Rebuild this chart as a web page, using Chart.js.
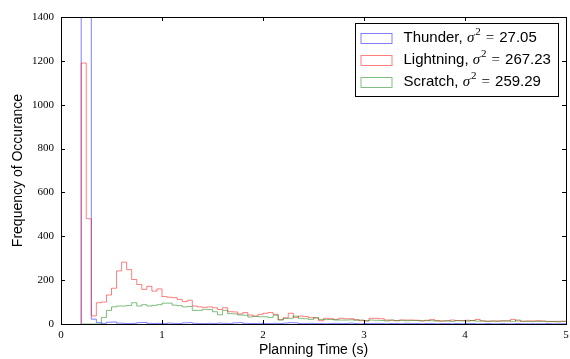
<!DOCTYPE html>
<html>
<head>
<meta charset="utf-8">
<script src="https://cdn.jsdelivr.net/npm/chart.js@4"></script>
<style>
  html, body { margin: 0; padding: 0; background: #fff; }
  #wrap { width: 570px; height: 359px; }
</style>
</head>
<body>
<div id="wrap"><canvas id="histChart" width="570" height="359"></canvas></div>
<script>
// histogram bins: 0.05 s wide, first edge at 0.2 s
const binStart = 0.2;
const binWidth = 0.05;

const seriesNames = ['Thunder', 'Lightning', 'Scratch'];
const variances = ['27.05', '267.23', '259.29'];

const thunder = [
  2600, 2400, 22, 6, 3, 8, 9, 4, 3, 2,
  3, 6, 7, 3, 2, 3, 2, 4, 3, 2,
  5, 6, 3, 2, 2, 3, 2, 4, 3, 2,
  5, 6, 3, 2, 2, 3, 2, 2, 3, 2,
  4, 6, 5, 2, 2, 3, 2, 2, 1, 2,
  3, 2, 2, 4, 2, 1, 2, 2, 3, 2,
  1, 2, 2, 1, 3, 2, 2, 1, 2, 2,
  1, 2, 2, 1, 2, 1, 2, 2, 1, 1,
  2, 1, 1, 2, 1, 1, 2, 1, 1, 1,
  1, 1, 2, 1, 1, 1
];

const lightning = [
  1190, 480, 37, 97, 100, 132, 163, 242, 282, 248,
  203, 180, 158, 172, 150, 160, 125, 122, 120, 112,
  102, 108, 82, 78, 76, 78, 74, 66, 74, 56,
  55, 46, 52, 41, 36, 44, 49, 52, 44, 20,
  28, 49, 30, 36, 34, 29, 27, 15, 26, 24,
  21, 26, 24, 24, 20, 15, 15, 26, 26, 24,
  18, 17, 15, 18, 18, 18, 17, 15, 15, 20,
  16, 13, 14, 18, 16, 16, 17, 15, 21, 14,
  13, 14, 14, 15, 14, 21, 14, 13, 13, 14,
  15, 13, 12, 11, 12, 13
];

const scratch = [
  0, 0, 0, 0, 30, 62, 78, 82, 82, 84,
  97, 82, 88, 82, 85, 88, 95, 95, 86, 84,
  78, 80, 62, 62, 67, 66, 56, 42, 62, 47,
  46, 41, 40, 32, 35, 33, 33, 30, 40, 18,
  26, 26, 36, 26, 24, 21, 29, 21, 20, 21,
  18, 18, 18, 19, 17, 18, 14, 18, 17, 16,
  14, 18, 15, 17, 15, 16, 16, 14, 17, 15,
  13, 14, 15, 12, 15, 14, 13, 16, 13, 14,
  12, 13, 12, 13, 14, 12, 18, 12, 13, 11,
  12, 13, 11, 12, 10, 11
];

const xTicks = [0, 1, 2, 3, 4, 5];
const yTicks = [0, 200, 400, 600, 800, 1000, 1200, 1400];

const colors = ['rgba(0, 0, 255, 0.5)', 'rgba(255, 0, 0, 0.5)', 'rgba(0, 128, 0, 0.5)'];

// turn bin counts into the outline of a step histogram
const stepPoints = (counts) => {
  const pts = [{ x: binStart, y: 0 }];
  counts.forEach((c, i) => pts.push({ x: binStart + i * binWidth, y: c }));
  pts.push({ x: binStart + counts.length * binWidth, y: counts[counts.length - 1] });
  return pts;
};

const tickFont = { family: '"Liberation Serif", "DejaVu Serif", serif', size: 11 };
const titleFont = { family: '"Liberation Sans", Arial, sans-serif', size: 14 };

// frame, inward ticks on all four sides, and the boxed legend
const framePlugin = {
  id: 'frame',
  afterDatasetsDraw(chart) {
    const { ctx, chartArea: a, scales } = chart;
    ctx.save();
    ctx.strokeStyle = '#000';
    ctx.lineWidth = 1;
    ctx.beginPath();
    xTicks.forEach(v => {
      const px = Math.round(scales.x.getPixelForValue(v)) + 0.5;
      ctx.moveTo(px, a.bottom); ctx.lineTo(px, a.bottom - 4);
      ctx.moveTo(px, a.top); ctx.lineTo(px, a.top + 4);
    });
    yTicks.forEach(v => {
      const py = Math.round(scales.y.getPixelForValue(v)) + 0.5;
      ctx.moveTo(a.left, py); ctx.lineTo(a.left + 4, py);
      ctx.moveTo(a.right, py); ctx.lineTo(a.right - 4, py);
    });
    ctx.stroke();
    ctx.strokeRect(Math.round(a.left) + 0.5, Math.round(a.top) + 0.5,
      Math.round(a.right - a.left), Math.round(a.bottom - a.top));
    ctx.restore();
  },
  afterDraw(chart) {
    const { ctx, chartArea: a } = chart;
    const boxW = 203, boxH = 73;
    const bx = Math.round(a.right) - 8 - boxW + 0.5;
    const by = Math.round(a.top) + 6 + 0.5;
    ctx.save();
    ctx.fillStyle = '#fff';
    ctx.fillRect(bx, by, boxW, boxH);
    ctx.strokeStyle = '#000';
    ctx.lineWidth = 1;
    ctx.strokeRect(bx, by, boxW, boxH);
    const sans = '15px "Liberation Sans", Arial, sans-serif';
    const mathIt = 'italic 15px "Liberation Serif", "DejaVu Serif", serif';
    const mathSup = '11px "Liberation Serif", "DejaVu Serif", serif';
    const mathRm = '15px "Liberation Serif", "DejaVu Serif", serif';
    seriesNames.forEach((name, i) => {
      const cy = by + 14 + i * 22;
      ctx.strokeStyle = colors[i];
      ctx.strokeRect(bx + 5.5, Math.round(cy - 5) + 0.5, 31, 10);
      ctx.fillStyle = '#000';
      ctx.textBaseline = 'middle';
      let tx = bx + 48;
      ctx.font = sans;
      ctx.fillText(name + ', ', tx, cy);
      tx += ctx.measureText(name + ', ').width;
      ctx.font = mathIt;
      ctx.fillText('\u03c3', tx, cy + 1);
      tx += ctx.measureText('\u03c3').width + 1;
      ctx.font = mathSup;
      ctx.fillText('2', tx, cy - 5);
      tx += ctx.measureText('2').width + 5;
      ctx.font = mathRm;
      ctx.fillText('=', tx, cy + 1);
      tx += ctx.measureText('=').width + 5;
      ctx.font = sans;
      ctx.fillText(variances[i], tx, cy);
    });
    ctx.restore();
  }
};

const ctx = document.getElementById('histChart').getContext('2d');
new Chart(ctx, {
  type: 'line',
  data: {
    datasets: [
      { label: seriesNames[0], data: stepPoints(thunder), borderColor: colors[0], order: 3 },
      { label: seriesNames[1], data: stepPoints(lightning), borderColor: colors[1], order: 2 },
      { label: seriesNames[2], data: stepPoints(scratch), borderColor: colors[2], order: 1 }
    ]
  },
  options: {
    responsive: false,
    animation: false,
    layout: { padding: { top: 17, right: 4, left: 0, bottom: 0 } },
    datasets: {
      line: {
        stepped: true,
        borderWidth: 1,
        pointRadius: 0,
        fill: false,
        clip: { left: 0, top: 0, right: 0, bottom: 1 }
      }
    },
    plugins: {
      legend: { display: false },
      tooltip: { enabled: false }
    },
    scales: {
      x: {
        type: 'linear',
        min: 0,
        max: 5,
        afterFit: (scale) => { scale.height = 35; scale.paddingLeft = 0; scale.paddingRight = 0; },
        afterBuildTicks: (scale) => { scale.ticks = xTicks.map(v => ({ value: v })); },
        grid: { display: false, drawTicks: false },
        border: { display: false },
        ticks: { font: tickFont, color: '#000', padding: 5, maxRotation: 0, callback: (v) => String(v) },
        title: { display: true, text: 'Planning Time (s)', font: titleFont, color: '#000', padding: { top: 0, bottom: 0 } }
      },
      y: {
        type: 'linear',
        min: 0,
        max: 1400,
        afterFit: (scale) => { scale.width = 61; scale.paddingTop = 0; scale.paddingBottom = 0; },
        afterBuildTicks: (scale) => { scale.ticks = yTicks.map(v => ({ value: v })); },
        grid: { display: false, drawTicks: false },
        border: { display: false },
        ticks: { font: tickFont, color: '#000', padding: 7, callback: (v) => String(v) },
        title: { display: true, text: 'Frequency of Occurance', font: titleFont, color: '#000', padding: { top: 10, bottom: 0 } }
      }
    }
  },
  plugins: [framePlugin]
});
</script>
</body>
</html>
